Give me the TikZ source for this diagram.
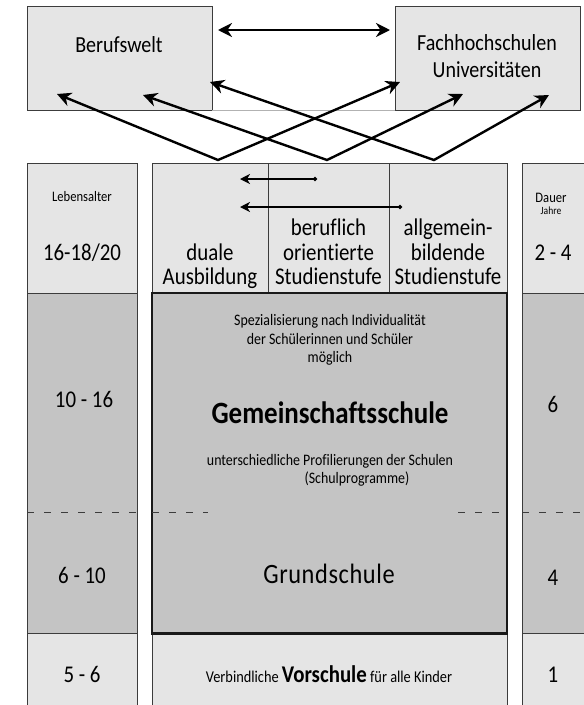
\documentclass[tikz,border=0pt]{standalone}
\usepackage{fontspec}
\setmainfont{Carlito}[FakeStretch=0.87, Ligatures={NoCommon}]
\usetikzlibrary{arrows.meta}
\definecolor{lightg}{HTML}{E5E5E5}
\definecolor{darkg}{HTML}{C4C4C4}
\definecolor{edgeg}{HTML}{3C3C3C}
\begin{document}
\begin{tikzpicture}[x=1pt,y=-1pt,
  box/.style={draw=edgeg, line width=0.8pt, inner sep=0pt, rectangle},
  lightbox/.style={box, fill=lightg},
  darkbox/.style={box, fill=darkg},
  txt/.style={inner sep=0pt, align=center, text=black, anchor=base},
  multi/.style={inner sep=0pt, align=center, text=black, anchor=south, text depth=0pt},
  big/.style={font=\fontsize{24}{24.5}\selectfont},
  small/.style={font=\fontsize{16}{18.5}\selectfont},
  tip/.tip={Stealth[length=14pt,width=14pt,inset=4.5pt]},
  cross/.style={line width=2.4pt, black, line join=miter, {tip}-{tip}},
  harrow/.style={line width=1.6pt, black, {Circle[length=4pt]}-{Stealth[length=10pt,width=10pt,inset=3pt]}},
  sep/.style={draw=edgeg, dashed, dash pattern=on 7pt off 10pt, line width=0.8pt}
]
\useasboundingbox (0,0) rectangle (584,705);
\fill[white] (0,0) rectangle (584,705);

% top boxes
\node[lightbox, minimum width=185pt, minimum height=104pt] (beruf) at (119.5,58) {};
\node[lightbox, minimum width=185pt, minimum height=104pt] (hoch) at (487.5,58) {};
\draw[gray!60, line width=0.6pt] (beruf.south east) -- (hoch.south west);
\node[txt, font=\fontsize{23}{27}\selectfont] (berufT) at (119,52) {Berufswelt};
\node[multi, font=\fontsize{23}{27}\selectfont] (hochT) at (487,78) {Fachhochschulen\\Universitäten};

% left column
\node[lightbox, minimum width=110pt, minimum height=130pt] (agehead) at (82,228) {};
\node[darkbox, minimum width=110pt, minimum height=340pt] (agemid) at (82,463) {};
\node[lightbox, minimum width=110pt, minimum height=80pt] (agelow) at (82,673) {};
% right column
\node[lightbox, minimum width=70pt, minimum height=130pt] (durhead) at (557,228) {};
\node[darkbox, minimum width=70pt, minimum height=340pt] (durmid) at (557,463) {};
\node[lightbox, minimum width=70pt, minimum height=80pt] (durlow) at (557,673) {};

% middle header cells
\node[lightbox, minimum width=116pt, minimum height=130pt] (duale) at (210,228) {};
\node[lightbox, minimum width=121pt, minimum height=130pt] (berufl) at (328.5,228) {};
\node[lightbox, minimum width=118pt, minimum height=130pt] (allg) at (448,228) {};
% big school box
\node[box, fill=darkg, draw=black!90, line width=1.8pt, minimum width=355pt, minimum height=340pt] (gem) at (329.5,463) {};
% Vorschule row
\node[lightbox, minimum width=355pt, minimum height=80pt] (vor) at (329.5,673) {};
\draw[black!90, line width=1.8pt] (gem.south west) -- (gem.south east);

% dashed separator
\draw[sep] (27,512) -- (137,512);
\draw[sep] (152,512) -- (208,512);
\draw[sep] (458,512) -- (507,512);
\draw[sep] (522,512) -- (584,512);

% texts left column
\node[txt, font=\fontsize{14.5}{16}\selectfont] (lebT) at (82,201) {Lebensalter};
\node[txt, big] (a1) at (82,260) {16-18/20};
\node[txt, big] (a2) at (84,407) {10 - 16};
\node[txt, big] (a3) at (82,583) {6 - 10};
\node[txt, big] (a4) at (82,682) {5 - 6};
% texts right column
\node[txt, font=\fontsize{14.5}{16}\selectfont] (dauT) at (551,202) {Dauer};
\node[txt, font=\fontsize{11}{12}\selectfont] (jahT) at (551,214) {Jahre};
\node[txt, big] (d1) at (553,260) {2 - 4};
\node[txt, big] (d2) at (553,412) {6};
\node[txt, big] (d3) at (553,585) {4};
\node[txt, big] (d4) at (553,682) {1};

% header texts
\node[multi, big] (dualeT) at (210,285) {duale\\Ausbildung};
\node[multi, big] (beruflT) at (328.5,285) {beruflich\\orientierte\\Studienstufe};
\node[multi, big] (allgT) at (448,285) {allgemein-\\bildende\\Studienstufe};

% middle texts
\node[multi, small] (spezT) at (330,363) {Spezialisierung nach Individualität\\der Schülerinnen und Schüler\\möglich};
\node[txt, font=\fontsize{31}{34}\selectfont\bfseries] (gemT) at (330,423) {Gemeinschaftsschule};
\node[txt, small] (profT) at (330,465) {unterschiedliche Profilierungen der Schulen};
\node[txt, small] (progT) at (357,483) {(Schulprogramme)};
\node[txt, font=\fontsize{28}{30}\selectfont] (grundT) at (329,583) {G\kern0.6pt r\kern0.6pt u\kern0.6pt n\kern0.6pt d\kern0.6pt s\kern0.6pt c\kern0.6pt h\kern0.6pt u\kern0.6pt l\kern0.6pt e};
\node[txt, font=\fontsize{16.5}{18}\selectfont] (vorT) at (329,682) {Verbindliche {\fontsize{24}{26}\selectfont\bfseries Vorschule} für alle Kinder};

% header arrows
\coordinate (h1s) at (317,179);
\coordinate (h1e) at (240,179);
\coordinate (h2s) at (402,207);
\coordinate (h2e) at (240,207);
\draw[harrow] (h1s) -- (h1e);
\draw[harrow] (h2s) -- (h2e);

% top double arrow
\coordinate (tl) at (218,30);
\coordinate (tr) at (390,30);
\draw[cross] (tl) -- (tr);

% crossing arrows
\coordinate (tA) at (57,94);
\coordinate (tB) at (143,95);
\coordinate (tC) at (210,82);
\coordinate (tD) at (400,82);
\coordinate (tE) at (463,94);
\coordinate (tF) at (549,95);
\coordinate (v1) at (218,160);
\coordinate (v2) at (327,160);
\coordinate (v3) at (434,160);
\draw[cross] (tA) -- (v1) -- (tD);
\draw[cross] (tB) -- (v2) -- (tE);
\draw[cross] (tC) -- (v3) -- (tF);
\end{tikzpicture}
\end{document}
